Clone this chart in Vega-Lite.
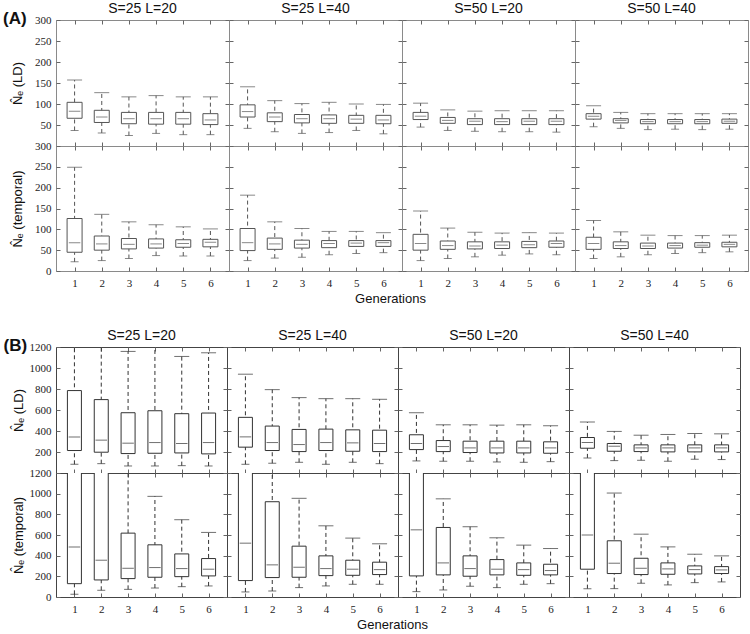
{
"$schema":"https://vega.github.io/schema/vega-lite/v6.json",
"padding":{"left":3,"top":1,"right":0,"bottom":0},
"background":"white",
"config":{
"numberFormat":"d",
"axis":{"domain":false,"grid":false,"tickSize":-4,"tickColor":"#666","labelFont":"Liberation Serif","labelFontSize":11,"labelColor":"#222","titleFont":"Liberation Sans","titleFontSize":13,"titleFontWeight":"normal","titleColor":"#111","labelFlush":false,"labelOverlap":false},
"axisTop":{"labels":false},
"axisRight":{"labels":false},
"axisLeft":{"labelPadding":9},
"axisBottom":{"labelPadding":10},
"title":{"font":"Liberation Sans","fontSize":14,"fontWeight":"normal","color":"#111","offset":4},
"legend":{"disable":true}
},
"datasets":{"d":[
{"sec":"A","est":"LD","cond":"25-20","gen":1,"lo":37,"q1":66,"med":83,"q3":104,"hi":157},
{"sec":"A","est":"LD","cond":"25-20","gen":2,"lo":31,"q1":56,"med":69,"q3":85,"hi":127},
{"sec":"A","est":"LD","cond":"25-20","gen":3,"lo":25,"q1":53,"med":65,"q3":80,"hi":117},
{"sec":"A","est":"LD","cond":"25-20","gen":4,"lo":30,"q1":52,"med":65,"q3":80,"hi":120},
{"sec":"A","est":"LD","cond":"25-20","gen":5,"lo":27,"q1":52,"med":65,"q3":80,"hi":117},
{"sec":"A","est":"LD","cond":"25-20","gen":6,"lo":27,"q1":51,"med":62,"q3":77,"hi":117},
{"sec":"A","est":"LD","cond":"25-40","gen":1,"lo":42,"q1":69,"med":82,"q3":98,"hi":141},
{"sec":"A","est":"LD","cond":"25-40","gen":2,"lo":34,"q1":58,"med":69,"q3":79,"hi":108},
{"sec":"A","est":"LD","cond":"25-40","gen":3,"lo":30,"q1":55,"med":65,"q3":75,"hi":101},
{"sec":"A","est":"LD","cond":"25-40","gen":4,"lo":32,"q1":54,"med":65,"q3":74,"hi":104},
{"sec":"A","est":"LD","cond":"25-40","gen":5,"lo":37,"q1":54,"med":64,"q3":73,"hi":100},
{"sec":"A","est":"LD","cond":"25-40","gen":6,"lo":29,"q1":53,"med":62,"q3":73,"hi":99},
{"sec":"A","est":"LD","cond":"50-20","gen":1,"lo":45,"q1":63,"med":71,"q3":80,"hi":102},
{"sec":"A","est":"LD","cond":"50-20","gen":2,"lo":37,"q1":54,"med":61,"q3":68,"hi":86},
{"sec":"A","est":"LD","cond":"50-20","gen":3,"lo":35,"q1":51,"med":59,"q3":65,"hi":83},
{"sec":"A","est":"LD","cond":"50-20","gen":4,"lo":34,"q1":51,"med":58,"q3":65,"hi":84},
{"sec":"A","est":"LD","cond":"50-20","gen":5,"lo":34,"q1":51,"med":59,"q3":65,"hi":84},
{"sec":"A","est":"LD","cond":"50-20","gen":6,"lo":33,"q1":51,"med":59,"q3":65,"hi":84},
{"sec":"A","est":"LD","cond":"50-40","gen":1,"lo":46,"q1":64,"med":71,"q3":77,"hi":96},
{"sec":"A","est":"LD","cond":"50-40","gen":2,"lo":42,"q1":55,"med":61,"q3":65,"hi":80},
{"sec":"A","est":"LD","cond":"50-40","gen":3,"lo":39,"q1":53,"med":58,"q3":63,"hi":77},
{"sec":"A","est":"LD","cond":"50-40","gen":4,"lo":40,"q1":53,"med":58,"q3":63,"hi":77},
{"sec":"A","est":"LD","cond":"50-40","gen":5,"lo":39,"q1":53,"med":58,"q3":63,"hi":77},
{"sec":"A","est":"LD","cond":"50-40","gen":6,"lo":40,"q1":54,"med":59,"q3":64,"hi":77},
{"sec":"A","est":"T","cond":"25-20","gen":1,"lo":22,"q1":45,"med":68,"q3":126,"hi":249},
{"sec":"A","est":"T","cond":"25-20","gen":2,"lo":25,"q1":50,"med":65,"q3":84,"hi":136},
{"sec":"A","est":"T","cond":"25-20","gen":3,"lo":30,"q1":53,"med":64,"q3":78,"hi":118},
{"sec":"A","est":"T","cond":"25-20","gen":4,"lo":37,"q1":55,"med":65,"q3":77,"hi":111},
{"sec":"A","est":"T","cond":"25-20","gen":5,"lo":36,"q1":57,"med":66,"q3":75,"hi":106},
{"sec":"A","est":"T","cond":"25-20","gen":6,"lo":36,"q1":58,"med":69,"q3":76,"hi":101},
{"sec":"A","est":"T","cond":"25-40","gen":1,"lo":25,"q1":49,"med":68,"q3":102,"hi":182},
{"sec":"A","est":"T","cond":"25-40","gen":2,"lo":31,"q1":52,"med":65,"q3":79,"hi":118},
{"sec":"A","est":"T","cond":"25-40","gen":3,"lo":33,"q1":55,"med":64,"q3":74,"hi":102},
{"sec":"A","est":"T","cond":"25-40","gen":4,"lo":39,"q1":56,"med":66,"q3":73,"hi":95},
{"sec":"A","est":"T","cond":"25-40","gen":5,"lo":42,"q1":59,"med":67,"q3":73,"hi":95},
{"sec":"A","est":"T","cond":"25-40","gen":6,"lo":44,"q1":59,"med":68,"q3":73,"hi":92},
{"sec":"A","est":"T","cond":"50-20","gen":1,"lo":25,"q1":50,"med":66,"q3":88,"hi":144},
{"sec":"A","est":"T","cond":"50-20","gen":2,"lo":30,"q1":52,"med":61,"q3":72,"hi":103},
{"sec":"A","est":"T","cond":"50-20","gen":3,"lo":34,"q1":53,"med":60,"q3":70,"hi":93},
{"sec":"A","est":"T","cond":"50-20","gen":4,"lo":38,"q1":54,"med":62,"q3":70,"hi":91},
{"sec":"A","est":"T","cond":"50-20","gen":5,"lo":41,"q1":56,"med":63,"q3":71,"hi":92},
{"sec":"A","est":"T","cond":"50-20","gen":6,"lo":39,"q1":57,"med":66,"q3":72,"hi":91},
{"sec":"A","est":"T","cond":"50-40","gen":1,"lo":30,"q1":52,"med":66,"q3":81,"hi":121},
{"sec":"A","est":"T","cond":"50-40","gen":2,"lo":34,"q1":54,"med":61,"q3":70,"hi":94},
{"sec":"A","est":"T","cond":"50-40","gen":3,"lo":39,"q1":54,"med":60,"q3":67,"hi":86},
{"sec":"A","est":"T","cond":"50-40","gen":4,"lo":42,"q1":55,"med":61,"q3":67,"hi":85},
{"sec":"A","est":"T","cond":"50-40","gen":5,"lo":44,"q1":57,"med":62,"q3":68,"hi":85},
{"sec":"A","est":"T","cond":"50-40","gen":6,"lo":46,"q1":58,"med":64,"q3":69,"hi":86},
{"sec":"B","est":"LD","cond":"25-20","gen":1,"lo":83,"q1":214,"med":344,"q3":785,"hi":1400},
{"sec":"B","est":"LD","cond":"25-20","gen":2,"lo":89,"q1":198,"med":313,"q3":699,"hi":1400},
{"sec":"B","est":"LD","cond":"25-20","gen":3,"lo":67,"q1":185,"med":284,"q3":574,"hi":1158},
{"sec":"B","est":"LD","cond":"25-20","gen":4,"lo":67,"q1":188,"med":290,"q3":593,"hi":1300},
{"sec":"B","est":"LD","cond":"25-20","gen":5,"lo":70,"q1":191,"med":281,"q3":565,"hi":1110},
{"sec":"B","est":"LD","cond":"25-20","gen":6,"lo":67,"q1":182,"med":290,"q3":571,"hi":1145},
{"sec":"B","est":"LD","cond":"25-40","gen":1,"lo":83,"q1":246,"med":344,"q3":530,"hi":941},
{"sec":"B","est":"LD","cond":"25-40","gen":2,"lo":93,"q1":214,"med":290,"q3":447,"hi":794},
{"sec":"B","est":"LD","cond":"25-40","gen":3,"lo":102,"q1":204,"med":271,"q3":415,"hi":718},
{"sec":"B","est":"LD","cond":"25-40","gen":4,"lo":83,"q1":214,"med":290,"q3":418,"hi":708},
{"sec":"B","est":"LD","cond":"25-40","gen":5,"lo":102,"q1":207,"med":287,"q3":411,"hi":708},
{"sec":"B","est":"LD","cond":"25-40","gen":6,"lo":89,"q1":204,"med":281,"q3":408,"hi":702},
{"sec":"B","est":"LD","cond":"50-20","gen":1,"lo":115,"q1":223,"med":281,"q3":364,"hi":574},
{"sec":"B","est":"LD","cond":"50-20","gen":2,"lo":112,"q1":204,"med":252,"q3":309,"hi":459},
{"sec":"B","est":"LD","cond":"50-20","gen":3,"lo":112,"q1":195,"med":239,"q3":303,"hi":459},
{"sec":"B","est":"LD","cond":"50-20","gen":4,"lo":105,"q1":191,"med":239,"q3":303,"hi":456},
{"sec":"B","est":"LD","cond":"50-20","gen":5,"lo":102,"q1":191,"med":239,"q3":303,"hi":459},
{"sec":"B","est":"LD","cond":"50-20","gen":6,"lo":108,"q1":188,"med":239,"q3":297,"hi":450},
{"sec":"B","est":"LD","cond":"50-40","gen":1,"lo":144,"q1":236,"med":290,"q3":338,"hi":485},
{"sec":"B","est":"LD","cond":"50-40","gen":2,"lo":118,"q1":207,"med":255,"q3":281,"hi":396},
{"sec":"B","est":"LD","cond":"50-40","gen":3,"lo":121,"q1":204,"med":239,"q3":268,"hi":360},
{"sec":"B","est":"LD","cond":"50-40","gen":4,"lo":112,"q1":201,"med":239,"q3":268,"hi":367},
{"sec":"B","est":"LD","cond":"50-40","gen":5,"lo":131,"q1":201,"med":239,"q3":268,"hi":376},
{"sec":"B","est":"LD","cond":"50-40","gen":6,"lo":128,"q1":201,"med":239,"q3":268,"hi":373},
{"sec":"B","est":"T","cond":"25-20","gen":1,"lo":26,"q1":129,"med":485,"q3":1300,"hi":1500},
{"sec":"B","est":"T","cond":"25-20","gen":2,"lo":65,"q1":165,"med":356,"q3":1250,"hi":1400},
{"sec":"B","est":"T","cond":"25-20","gen":3,"lo":74,"q1":178,"med":278,"q3":618,"hi":1300},
{"sec":"B","est":"T","cond":"25-20","gen":4,"lo":87,"q1":191,"med":285,"q3":505,"hi":974},
{"sec":"B","est":"T","cond":"25-20","gen":5,"lo":100,"q1":197,"med":275,"q3":417,"hi":748},
{"sec":"B","est":"T","cond":"25-20","gen":6,"lo":107,"q1":204,"med":269,"q3":372,"hi":625},
{"sec":"B","est":"T","cond":"25-40","gen":1,"lo":49,"q1":159,"med":521,"q3":1300,"hi":1500},
{"sec":"B","est":"T","cond":"25-40","gen":2,"lo":58,"q1":188,"med":311,"q3":922,"hi":1300},
{"sec":"B","est":"T","cond":"25-40","gen":3,"lo":91,"q1":191,"med":288,"q3":492,"hi":955},
{"sec":"B","est":"T","cond":"25-40","gen":4,"lo":107,"q1":207,"med":275,"q3":398,"hi":689},
{"sec":"B","est":"T","cond":"25-40","gen":5,"lo":123,"q1":210,"med":269,"q3":356,"hi":570},
{"sec":"B","est":"T","cond":"25-40","gen":6,"lo":123,"q1":217,"med":265,"q3":337,"hi":515},
{"sec":"B","est":"T","cond":"50-20","gen":1,"lo":52,"q1":204,"med":650,"q3":1300,"hi":1500},
{"sec":"B","est":"T","cond":"50-20","gen":2,"lo":68,"q1":214,"med":330,"q3":673,"hi":950},
{"sec":"B","est":"T","cond":"50-20","gen":3,"lo":104,"q1":201,"med":275,"q3":398,"hi":680},
{"sec":"B","est":"T","cond":"50-20","gen":4,"lo":91,"q1":214,"med":269,"q3":362,"hi":573},
{"sec":"B","est":"T","cond":"50-20","gen":5,"lo":123,"q1":210,"med":265,"q3":330,"hi":502},
{"sec":"B","est":"T","cond":"50-20","gen":6,"lo":129,"q1":214,"med":256,"q3":317,"hi":469},
{"sec":"B","est":"T","cond":"50-40","gen":1,"lo":81,"q1":269,"med":599,"q3":1300,"hi":1500},
{"sec":"B","est":"T","cond":"50-40","gen":2,"lo":81,"q1":227,"med":327,"q3":544,"hi":1006},
{"sec":"B","est":"T","cond":"50-40","gen":3,"lo":133,"q1":217,"med":278,"q3":375,"hi":608},
{"sec":"B","est":"T","cond":"50-40","gen":4,"lo":117,"q1":220,"med":272,"q3":330,"hi":485},
{"sec":"B","est":"T","cond":"50-40","gen":5,"lo":139,"q1":223,"med":265,"q3":301,"hi":414},
{"sec":"B","est":"T","cond":"50-40","gen":6,"lo":146,"q1":227,"med":262,"q3":294,"hi":398}
]},
"vconcat":[
{"title":{"text":"(A)","anchor":"start","frame":"bounds","fontSize":17,"fontWeight":"bold","dy":31,"dx":-8},
 "columns":4,"spacing":0,"bounds":"flush",
 "concat":[
  {"width":173,"height":126,"title":{"text":"S=25 L=20","offset":-2},"view":{"stroke":"#8a8a8a"},"data":{"name":"d"},
   "transform":[{"filter":"datum.sec=='A'&&datum.est=='LD'&&datum.cond=='25-20'"}],
   "layer":[
    {"mark":{"type":"rule","strokeDash":[4,3],"color":"#555","clip":true},
     "encoding":{"x":{"field":"gen","type":"quantitative","scale":{"domain":[0.5,6.5],"nice":false},"axis":{"values":[1,2,3,4,5,6],"labels":false,"title":null}},
      "y":{"field":"lo","type":"quantitative","scale":{"domain":[0,300],"nice":false},"axis":{"values":[50,100,150,200,250,300],"title":"N̂ₑ (LD)","titlePadding":10}},
      "y2":{"field":"hi"}}},
    {"mark":{"type":"bar","orient":"vertical","size":15,"fill":"white","stroke":"#555","strokeWidth":1,"clip":true},
     "encoding":{"x":{"field":"gen","type":"quantitative","axis":null},"y":{"field":"q1","type":"quantitative","axis":null},"y2":{"field":"q3"}}},
    {"transform":[{"fold":["lo","med","hi"],"as":["k","v"]}],
     "mark":{"type":"tick","orient":"horizontal","thickness":1,"color":"#555","clip":true},
     "encoding":{"x":{"field":"gen","type":"quantitative","axis":{"orient":"top","values":[1,2,3,4,5,6],"title":null}},
      "y":{"field":"v","type":"quantitative","axis":{"orient":"right","values":[50,100,150,200,250,300],"title":null}},
      "size":{"field":"k","type":"nominal","scale":{"domain":["lo","med","hi"],"range":[8,15,8]},"legend":null}}}
   ],
   "resolve":{"axis":{"x":"independent","y":"independent"}}},
  {"width":173,"height":126,"title":"S=25 L=40","view":{"stroke":"#8a8a8a"},"data":{"name":"d"},
   "transform":[{"filter":"datum.sec=='A'&&datum.est=='LD'&&datum.cond=='25-40'"}],
   "layer":[
    {"mark":{"type":"rule","strokeDash":[4,3],"color":"#555","clip":true},
     "encoding":{"x":{"field":"gen","type":"quantitative","scale":{"domain":[0.5,6.5],"nice":false},"axis":{"values":[1,2,3,4,5,6],"labels":false,"title":null}},
      "y":{"field":"lo","type":"quantitative","scale":{"domain":[0,300],"nice":false},"axis":{"values":[50,100,150,200,250,300],"labels":false,"title":null}},
      "y2":{"field":"hi"}}},
    {"mark":{"type":"bar","orient":"vertical","size":15,"fill":"white","stroke":"#555","strokeWidth":1,"clip":true},
     "encoding":{"x":{"field":"gen","type":"quantitative","axis":null},"y":{"field":"q1","type":"quantitative","axis":null},"y2":{"field":"q3"}}},
    {"transform":[{"fold":["lo","med","hi"],"as":["k","v"]}],
     "mark":{"type":"tick","orient":"horizontal","thickness":1,"color":"#555","clip":true},
     "encoding":{"x":{"field":"gen","type":"quantitative","axis":{"orient":"top","values":[1,2,3,4,5,6],"title":null}},
      "y":{"field":"v","type":"quantitative","axis":{"orient":"right","values":[50,100,150,200,250,300],"title":null}},
      "size":{"field":"k","type":"nominal","scale":{"domain":["lo","med","hi"],"range":[8,15,8]},"legend":null}}}
   ],
   "resolve":{"axis":{"x":"independent","y":"independent"}}},
  {"width":173,"height":126,"title":"S=50 L=20","view":{"stroke":"#8a8a8a"},"data":{"name":"d"},
   "transform":[{"filter":"datum.sec=='A'&&datum.est=='LD'&&datum.cond=='50-20'"}],
   "layer":[
    {"mark":{"type":"rule","strokeDash":[4,3],"color":"#555","clip":true},
     "encoding":{"x":{"field":"gen","type":"quantitative","scale":{"domain":[0.5,6.5],"nice":false},"axis":{"values":[1,2,3,4,5,6],"labels":false,"title":null}},
      "y":{"field":"lo","type":"quantitative","scale":{"domain":[0,300],"nice":false},"axis":{"values":[50,100,150,200,250,300],"labels":false,"title":null}},
      "y2":{"field":"hi"}}},
    {"mark":{"type":"bar","orient":"vertical","size":15,"fill":"white","stroke":"#555","strokeWidth":1,"clip":true},
     "encoding":{"x":{"field":"gen","type":"quantitative","axis":null},"y":{"field":"q1","type":"quantitative","axis":null},"y2":{"field":"q3"}}},
    {"transform":[{"fold":["lo","med","hi"],"as":["k","v"]}],
     "mark":{"type":"tick","orient":"horizontal","thickness":1,"color":"#555","clip":true},
     "encoding":{"x":{"field":"gen","type":"quantitative","axis":{"orient":"top","values":[1,2,3,4,5,6],"title":null}},
      "y":{"field":"v","type":"quantitative","axis":{"orient":"right","values":[50,100,150,200,250,300],"title":null}},
      "size":{"field":"k","type":"nominal","scale":{"domain":["lo","med","hi"],"range":[8,15,8]},"legend":null}}}
   ],
   "resolve":{"axis":{"x":"independent","y":"independent"}}},
  {"width":173,"height":126,"title":"S=50 L=40","view":{"stroke":"#8a8a8a"},"data":{"name":"d"},
   "transform":[{"filter":"datum.sec=='A'&&datum.est=='LD'&&datum.cond=='50-40'"}],
   "layer":[
    {"mark":{"type":"rule","strokeDash":[4,3],"color":"#555","clip":true},
     "encoding":{"x":{"field":"gen","type":"quantitative","scale":{"domain":[0.5,6.5],"nice":false},"axis":{"values":[1,2,3,4,5,6],"labels":false,"title":null}},
      "y":{"field":"lo","type":"quantitative","scale":{"domain":[0,300],"nice":false},"axis":{"values":[50,100,150,200,250,300],"labels":false,"title":null}},
      "y2":{"field":"hi"}}},
    {"mark":{"type":"bar","orient":"vertical","size":15,"fill":"white","stroke":"#555","strokeWidth":1,"clip":true},
     "encoding":{"x":{"field":"gen","type":"quantitative","axis":null},"y":{"field":"q1","type":"quantitative","axis":null},"y2":{"field":"q3"}}},
    {"transform":[{"fold":["lo","med","hi"],"as":["k","v"]}],
     "mark":{"type":"tick","orient":"horizontal","thickness":1,"color":"#555","clip":true},
     "encoding":{"x":{"field":"gen","type":"quantitative","axis":{"orient":"top","values":[1,2,3,4,5,6],"title":null}},
      "y":{"field":"v","type":"quantitative","axis":{"orient":"right","values":[50,100,150,200,250,300],"title":null}},
      "size":{"field":"k","type":"nominal","scale":{"domain":["lo","med","hi"],"range":[8,15,8]},"legend":null}}}
   ],
   "resolve":{"axis":{"x":"independent","y":"independent"}}},
  {"width":173,"height":125,"view":{"stroke":"#8a8a8a"},"data":{"name":"d"},
   "transform":[{"filter":"datum.sec=='A'&&datum.est=='T'&&datum.cond=='25-20'"}],
   "layer":[
    {"mark":{"type":"rule","strokeDash":[4,3],"color":"#555","clip":true},
     "encoding":{"x":{"field":"gen","type":"quantitative","scale":{"domain":[0.5,6.5],"nice":false},"axis":{"values":[1,2,3,4,5,6],"title":null}},
      "y":{"field":"lo","type":"quantitative","scale":{"domain":[0,300],"nice":false},"axis":{"values":[0,50,100,150,200,250,300],"title":"N̂ₑ (temporal)","titlePadding":10}},
      "y2":{"field":"hi"}}},
    {"mark":{"type":"bar","orient":"vertical","size":15,"fill":"white","stroke":"#555","strokeWidth":1,"clip":true},
     "encoding":{"x":{"field":"gen","type":"quantitative","axis":null},"y":{"field":"q1","type":"quantitative","axis":null},"y2":{"field":"q3"}}},
    {"transform":[{"fold":["lo","med","hi"],"as":["k","v"]}],
     "mark":{"type":"tick","orient":"horizontal","thickness":1,"color":"#555","clip":true},
     "encoding":{"x":{"field":"gen","type":"quantitative","axis":{"orient":"top","values":[1,2,3,4,5,6],"title":null}},
      "y":{"field":"v","type":"quantitative","axis":{"orient":"right","values":[0,50,100,150,200,250,300],"title":null}},
      "size":{"field":"k","type":"nominal","scale":{"domain":["lo","med","hi"],"range":[8,15,8]},"legend":null}}}
   ],
   "resolve":{"axis":{"x":"independent","y":"independent"}}},
  {"width":173,"height":125,"view":{"stroke":"#8a8a8a"},"data":{"name":"d"},
   "transform":[{"filter":"datum.sec=='A'&&datum.est=='T'&&datum.cond=='25-40'"}],
   "layer":[
    {"mark":{"type":"rule","strokeDash":[4,3],"color":"#555","clip":true},
     "encoding":{"x":{"field":"gen","type":"quantitative","scale":{"domain":[0.5,6.5],"nice":false},"axis":{"values":[1,2,3,4,5,6],"title":"Generations","titleX":161}},
      "y":{"field":"lo","type":"quantitative","scale":{"domain":[0,300],"nice":false},"axis":{"values":[0,50,100,150,200,250,300],"labels":false,"title":null}},
      "y2":{"field":"hi"}}},
    {"mark":{"type":"bar","orient":"vertical","size":15,"fill":"white","stroke":"#555","strokeWidth":1,"clip":true},
     "encoding":{"x":{"field":"gen","type":"quantitative","axis":null},"y":{"field":"q1","type":"quantitative","axis":null},"y2":{"field":"q3"}}},
    {"transform":[{"fold":["lo","med","hi"],"as":["k","v"]}],
     "mark":{"type":"tick","orient":"horizontal","thickness":1,"color":"#555","clip":true},
     "encoding":{"x":{"field":"gen","type":"quantitative","axis":{"orient":"top","values":[1,2,3,4,5,6],"title":null}},
      "y":{"field":"v","type":"quantitative","axis":{"orient":"right","values":[0,50,100,150,200,250,300],"title":null}},
      "size":{"field":"k","type":"nominal","scale":{"domain":["lo","med","hi"],"range":[8,15,8]},"legend":null}}}
   ],
   "resolve":{"axis":{"x":"independent","y":"independent"}}},
  {"width":173,"height":125,"view":{"stroke":"#8a8a8a"},"data":{"name":"d"},
   "transform":[{"filter":"datum.sec=='A'&&datum.est=='T'&&datum.cond=='50-20'"}],
   "layer":[
    {"mark":{"type":"rule","strokeDash":[4,3],"color":"#555","clip":true},
     "encoding":{"x":{"field":"gen","type":"quantitative","scale":{"domain":[0.5,6.5],"nice":false},"axis":{"values":[1,2,3,4,5,6],"title":null}},
      "y":{"field":"lo","type":"quantitative","scale":{"domain":[0,300],"nice":false},"axis":{"values":[0,50,100,150,200,250,300],"labels":false,"title":null}},
      "y2":{"field":"hi"}}},
    {"mark":{"type":"bar","orient":"vertical","size":15,"fill":"white","stroke":"#555","strokeWidth":1,"clip":true},
     "encoding":{"x":{"field":"gen","type":"quantitative","axis":null},"y":{"field":"q1","type":"quantitative","axis":null},"y2":{"field":"q3"}}},
    {"transform":[{"fold":["lo","med","hi"],"as":["k","v"]}],
     "mark":{"type":"tick","orient":"horizontal","thickness":1,"color":"#555","clip":true},
     "encoding":{"x":{"field":"gen","type":"quantitative","axis":{"orient":"top","values":[1,2,3,4,5,6],"title":null}},
      "y":{"field":"v","type":"quantitative","axis":{"orient":"right","values":[0,50,100,150,200,250,300],"title":null}},
      "size":{"field":"k","type":"nominal","scale":{"domain":["lo","med","hi"],"range":[8,15,8]},"legend":null}}}
   ],
   "resolve":{"axis":{"x":"independent","y":"independent"}}},
  {"width":173,"height":125,"view":{"stroke":"#8a8a8a"},"data":{"name":"d"},
   "transform":[{"filter":"datum.sec=='A'&&datum.est=='T'&&datum.cond=='50-40'"}],
   "layer":[
    {"mark":{"type":"rule","strokeDash":[4,3],"color":"#555","clip":true},
     "encoding":{"x":{"field":"gen","type":"quantitative","scale":{"domain":[0.5,6.5],"nice":false},"axis":{"values":[1,2,3,4,5,6],"title":null}},
      "y":{"field":"lo","type":"quantitative","scale":{"domain":[0,300],"nice":false},"axis":{"values":[0,50,100,150,200,250,300],"labels":false,"title":null}},
      "y2":{"field":"hi"}}},
    {"mark":{"type":"bar","orient":"vertical","size":15,"fill":"white","stroke":"#555","strokeWidth":1,"clip":true},
     "encoding":{"x":{"field":"gen","type":"quantitative","axis":null},"y":{"field":"q1","type":"quantitative","axis":null},"y2":{"field":"q3"}}},
    {"transform":[{"fold":["lo","med","hi"],"as":["k","v"]}],
     "mark":{"type":"tick","orient":"horizontal","thickness":1,"color":"#555","clip":true},
     "encoding":{"x":{"field":"gen","type":"quantitative","axis":{"orient":"top","values":[1,2,3,4,5,6],"title":null}},
      "y":{"field":"v","type":"quantitative","axis":{"orient":"right","values":[0,50,100,150,200,250,300],"title":null}},
      "size":{"field":"k","type":"nominal","scale":{"domain":["lo","med","hi"],"range":[8,15,8]},"legend":null}}}
   ],
   "resolve":{"axis":{"x":"independent","y":"independent"}}}
 ]},
{"title":{"text":"(B)","anchor":"start","frame":"bounds","fontSize":17,"fontWeight":"bold","dy":31,"dx":-8},
 "columns":4,"spacing":0,"bounds":"flush",
 "concat":[
  {"width":171,"height":126,"title":{"text":"S=25 L=20","offset":-2},"view":{"stroke":"#444"},"data":{"name":"d"},
   "transform":[{"filter":"datum.sec=='B'&&datum.est=='LD'&&datum.cond=='25-20'"}],
   "layer":[
    {"mark":{"type":"rule","strokeDash":[4,3],"color":"#333","clip":true},
     "encoding":{"x":{"field":"gen","type":"quantitative","scale":{"domain":[0.5,6.5],"nice":false},"axis":{"values":[1,2,3,4,5,6],"labels":false,"title":null}},
      "y":{"field":"lo","type":"quantitative","scale":{"domain":[0,1200],"nice":false},"axis":{"values":[200,400,600,800,1000,1200],"title":"N̂ₑ (LD)","titlePadding":4}},
      "y2":{"field":"hi"}}},
    {"mark":{"type":"bar","orient":"vertical","size":14,"fill":"white","stroke":"#333","strokeWidth":1,"clip":true},
     "encoding":{"x":{"field":"gen","type":"quantitative","axis":null},"y":{"field":"q1","type":"quantitative","axis":null},"y2":{"field":"q3"}}},
    {"transform":[{"fold":["lo","med","hi"],"as":["k","v"]}],
     "mark":{"type":"tick","orient":"horizontal","thickness":1,"color":"#333","clip":true},
     "encoding":{"x":{"field":"gen","type":"quantitative","axis":{"orient":"top","values":[1,2,3,4,5,6],"title":null}},
      "y":{"field":"v","type":"quantitative","axis":{"orient":"right","values":[200,400,600,800,1000,1200],"title":null}},
      "size":{"field":"k","type":"nominal","scale":{"domain":["lo","med","hi"],"range":[8,14,8]},"legend":null}}}
   ],
   "resolve":{"axis":{"x":"independent","y":"independent"}}},
  {"width":171,"height":126,"title":"S=25 L=40","view":{"stroke":"#444"},"data":{"name":"d"},
   "transform":[{"filter":"datum.sec=='B'&&datum.est=='LD'&&datum.cond=='25-40'"}],
   "layer":[
    {"mark":{"type":"rule","strokeDash":[4,3],"color":"#333","clip":true},
     "encoding":{"x":{"field":"gen","type":"quantitative","scale":{"domain":[0.5,6.5],"nice":false},"axis":{"values":[1,2,3,4,5,6],"labels":false,"title":null}},
      "y":{"field":"lo","type":"quantitative","scale":{"domain":[0,1200],"nice":false},"axis":{"values":[200,400,600,800,1000,1200],"labels":false,"title":null}},
      "y2":{"field":"hi"}}},
    {"mark":{"type":"bar","orient":"vertical","size":14,"fill":"white","stroke":"#333","strokeWidth":1,"clip":true},
     "encoding":{"x":{"field":"gen","type":"quantitative","axis":null},"y":{"field":"q1","type":"quantitative","axis":null},"y2":{"field":"q3"}}},
    {"transform":[{"fold":["lo","med","hi"],"as":["k","v"]}],
     "mark":{"type":"tick","orient":"horizontal","thickness":1,"color":"#333","clip":true},
     "encoding":{"x":{"field":"gen","type":"quantitative","axis":{"orient":"top","values":[1,2,3,4,5,6],"title":null}},
      "y":{"field":"v","type":"quantitative","axis":{"orient":"right","values":[200,400,600,800,1000,1200],"title":null}},
      "size":{"field":"k","type":"nominal","scale":{"domain":["lo","med","hi"],"range":[8,14,8]},"legend":null}}}
   ],
   "resolve":{"axis":{"x":"independent","y":"independent"}}},
  {"width":171,"height":126,"title":"S=50 L=20","view":{"stroke":"#444"},"data":{"name":"d"},
   "transform":[{"filter":"datum.sec=='B'&&datum.est=='LD'&&datum.cond=='50-20'"}],
   "layer":[
    {"mark":{"type":"rule","strokeDash":[4,3],"color":"#333","clip":true},
     "encoding":{"x":{"field":"gen","type":"quantitative","scale":{"domain":[0.5,6.5],"nice":false},"axis":{"values":[1,2,3,4,5,6],"labels":false,"title":null}},
      "y":{"field":"lo","type":"quantitative","scale":{"domain":[0,1200],"nice":false},"axis":{"values":[200,400,600,800,1000,1200],"labels":false,"title":null}},
      "y2":{"field":"hi"}}},
    {"mark":{"type":"bar","orient":"vertical","size":14,"fill":"white","stroke":"#333","strokeWidth":1,"clip":true},
     "encoding":{"x":{"field":"gen","type":"quantitative","axis":null},"y":{"field":"q1","type":"quantitative","axis":null},"y2":{"field":"q3"}}},
    {"transform":[{"fold":["lo","med","hi"],"as":["k","v"]}],
     "mark":{"type":"tick","orient":"horizontal","thickness":1,"color":"#333","clip":true},
     "encoding":{"x":{"field":"gen","type":"quantitative","axis":{"orient":"top","values":[1,2,3,4,5,6],"title":null}},
      "y":{"field":"v","type":"quantitative","axis":{"orient":"right","values":[200,400,600,800,1000,1200],"title":null}},
      "size":{"field":"k","type":"nominal","scale":{"domain":["lo","med","hi"],"range":[8,14,8]},"legend":null}}}
   ],
   "resolve":{"axis":{"x":"independent","y":"independent"}}},
  {"width":171,"height":126,"title":"S=50 L=40","view":{"stroke":"#444"},"data":{"name":"d"},
   "transform":[{"filter":"datum.sec=='B'&&datum.est=='LD'&&datum.cond=='50-40'"}],
   "layer":[
    {"mark":{"type":"rule","strokeDash":[4,3],"color":"#333","clip":true},
     "encoding":{"x":{"field":"gen","type":"quantitative","scale":{"domain":[0.5,6.5],"nice":false},"axis":{"values":[1,2,3,4,5,6],"labels":false,"title":null}},
      "y":{"field":"lo","type":"quantitative","scale":{"domain":[0,1200],"nice":false},"axis":{"values":[200,400,600,800,1000,1200],"labels":false,"title":null}},
      "y2":{"field":"hi"}}},
    {"mark":{"type":"bar","orient":"vertical","size":14,"fill":"white","stroke":"#333","strokeWidth":1,"clip":true},
     "encoding":{"x":{"field":"gen","type":"quantitative","axis":null},"y":{"field":"q1","type":"quantitative","axis":null},"y2":{"field":"q3"}}},
    {"transform":[{"fold":["lo","med","hi"],"as":["k","v"]}],
     "mark":{"type":"tick","orient":"horizontal","thickness":1,"color":"#333","clip":true},
     "encoding":{"x":{"field":"gen","type":"quantitative","axis":{"orient":"top","values":[1,2,3,4,5,6],"title":null}},
      "y":{"field":"v","type":"quantitative","axis":{"orient":"right","values":[200,400,600,800,1000,1200],"title":null}},
      "size":{"field":"k","type":"nominal","scale":{"domain":["lo","med","hi"],"range":[8,14,8]},"legend":null}}}
   ],
   "resolve":{"axis":{"x":"independent","y":"independent"}}},
  {"width":171,"height":124,"view":{"stroke":"#444"},"data":{"name":"d"},
   "transform":[{"filter":"datum.sec=='B'&&datum.est=='T'&&datum.cond=='25-20'"}],
   "layer":[
    {"mark":{"type":"rule","strokeDash":[4,3],"color":"#333","clip":true},
     "encoding":{"x":{"field":"gen","type":"quantitative","scale":{"domain":[0.5,6.5],"nice":false},"axis":{"values":[1,2,3,4,5,6],"title":null}},
      "y":{"field":"lo","type":"quantitative","scale":{"domain":[0,1200],"nice":false},"axis":{"values":[0,200,400,600,800,1000,1200],"title":"N̂ₑ (temporal)","titlePadding":4}},
      "y2":{"field":"hi"}}},
    {"mark":{"type":"bar","orient":"vertical","size":14,"fill":"white","stroke":"#333","strokeWidth":1,"clip":true},
     "encoding":{"x":{"field":"gen","type":"quantitative","axis":null},"y":{"field":"q1","type":"quantitative","axis":null},"y2":{"field":"q3"}}},
    {"transform":[{"fold":["lo","med","hi"],"as":["k","v"]}],
     "mark":{"type":"tick","orient":"horizontal","thickness":1,"color":"#333","clip":true},
     "encoding":{"x":{"field":"gen","type":"quantitative","axis":{"orient":"top","values":[1,2,3,4,5,6],"title":null}},
      "y":{"field":"v","type":"quantitative","axis":{"orient":"right","values":[0,200,400,600,800,1000,1200],"title":null}},
      "size":{"field":"k","type":"nominal","scale":{"domain":["lo","med","hi"],"range":[8,14,8]},"legend":null}}}
   ],
   "resolve":{"axis":{"x":"independent","y":"independent"}}},
  {"width":171,"height":124,"view":{"stroke":"#444"},"data":{"name":"d"},
   "transform":[{"filter":"datum.sec=='B'&&datum.est=='T'&&datum.cond=='25-40'"}],
   "layer":[
    {"mark":{"type":"rule","strokeDash":[4,3],"color":"#333","clip":true},
     "encoding":{"x":{"field":"gen","type":"quantitative","scale":{"domain":[0.5,6.5],"nice":false},"axis":{"values":[1,2,3,4,5,6],"title":"Generations","titleX":165}},
      "y":{"field":"lo","type":"quantitative","scale":{"domain":[0,1200],"nice":false},"axis":{"values":[0,200,400,600,800,1000,1200],"labels":false,"title":null}},
      "y2":{"field":"hi"}}},
    {"mark":{"type":"bar","orient":"vertical","size":14,"fill":"white","stroke":"#333","strokeWidth":1,"clip":true},
     "encoding":{"x":{"field":"gen","type":"quantitative","axis":null},"y":{"field":"q1","type":"quantitative","axis":null},"y2":{"field":"q3"}}},
    {"transform":[{"fold":["lo","med","hi"],"as":["k","v"]}],
     "mark":{"type":"tick","orient":"horizontal","thickness":1,"color":"#333","clip":true},
     "encoding":{"x":{"field":"gen","type":"quantitative","axis":{"orient":"top","values":[1,2,3,4,5,6],"title":null}},
      "y":{"field":"v","type":"quantitative","axis":{"orient":"right","values":[0,200,400,600,800,1000,1200],"title":null}},
      "size":{"field":"k","type":"nominal","scale":{"domain":["lo","med","hi"],"range":[8,14,8]},"legend":null}}}
   ],
   "resolve":{"axis":{"x":"independent","y":"independent"}}},
  {"width":171,"height":124,"view":{"stroke":"#444"},"data":{"name":"d"},
   "transform":[{"filter":"datum.sec=='B'&&datum.est=='T'&&datum.cond=='50-20'"}],
   "layer":[
    {"mark":{"type":"rule","strokeDash":[4,3],"color":"#333","clip":true},
     "encoding":{"x":{"field":"gen","type":"quantitative","scale":{"domain":[0.5,6.5],"nice":false},"axis":{"values":[1,2,3,4,5,6],"title":null}},
      "y":{"field":"lo","type":"quantitative","scale":{"domain":[0,1200],"nice":false},"axis":{"values":[0,200,400,600,800,1000,1200],"labels":false,"title":null}},
      "y2":{"field":"hi"}}},
    {"mark":{"type":"bar","orient":"vertical","size":14,"fill":"white","stroke":"#333","strokeWidth":1,"clip":true},
     "encoding":{"x":{"field":"gen","type":"quantitative","axis":null},"y":{"field":"q1","type":"quantitative","axis":null},"y2":{"field":"q3"}}},
    {"transform":[{"fold":["lo","med","hi"],"as":["k","v"]}],
     "mark":{"type":"tick","orient":"horizontal","thickness":1,"color":"#333","clip":true},
     "encoding":{"x":{"field":"gen","type":"quantitative","axis":{"orient":"top","values":[1,2,3,4,5,6],"title":null}},
      "y":{"field":"v","type":"quantitative","axis":{"orient":"right","values":[0,200,400,600,800,1000,1200],"title":null}},
      "size":{"field":"k","type":"nominal","scale":{"domain":["lo","med","hi"],"range":[8,14,8]},"legend":null}}}
   ],
   "resolve":{"axis":{"x":"independent","y":"independent"}}},
  {"width":171,"height":124,"view":{"stroke":"#444"},"data":{"name":"d"},
   "transform":[{"filter":"datum.sec=='B'&&datum.est=='T'&&datum.cond=='50-40'"}],
   "layer":[
    {"mark":{"type":"rule","strokeDash":[4,3],"color":"#333","clip":true},
     "encoding":{"x":{"field":"gen","type":"quantitative","scale":{"domain":[0.5,6.5],"nice":false},"axis":{"values":[1,2,3,4,5,6],"title":null}},
      "y":{"field":"lo","type":"quantitative","scale":{"domain":[0,1200],"nice":false},"axis":{"values":[0,200,400,600,800,1000,1200],"labels":false,"title":null}},
      "y2":{"field":"hi"}}},
    {"mark":{"type":"bar","orient":"vertical","size":14,"fill":"white","stroke":"#333","strokeWidth":1,"clip":true},
     "encoding":{"x":{"field":"gen","type":"quantitative","axis":null},"y":{"field":"q1","type":"quantitative","axis":null},"y2":{"field":"q3"}}},
    {"transform":[{"fold":["lo","med","hi"],"as":["k","v"]}],
     "mark":{"type":"tick","orient":"horizontal","thickness":1,"color":"#333","clip":true},
     "encoding":{"x":{"field":"gen","type":"quantitative","axis":{"orient":"top","values":[1,2,3,4,5,6],"title":null}},
      "y":{"field":"v","type":"quantitative","axis":{"orient":"right","values":[0,200,400,600,800,1000,1200],"title":null}},
      "size":{"field":"k","type":"nominal","scale":{"domain":["lo","med","hi"],"range":[8,14,8]},"legend":null}}}
   ],
   "resolve":{"axis":{"x":"independent","y":"independent"}}}
 ]}
],
"spacing":22
}
